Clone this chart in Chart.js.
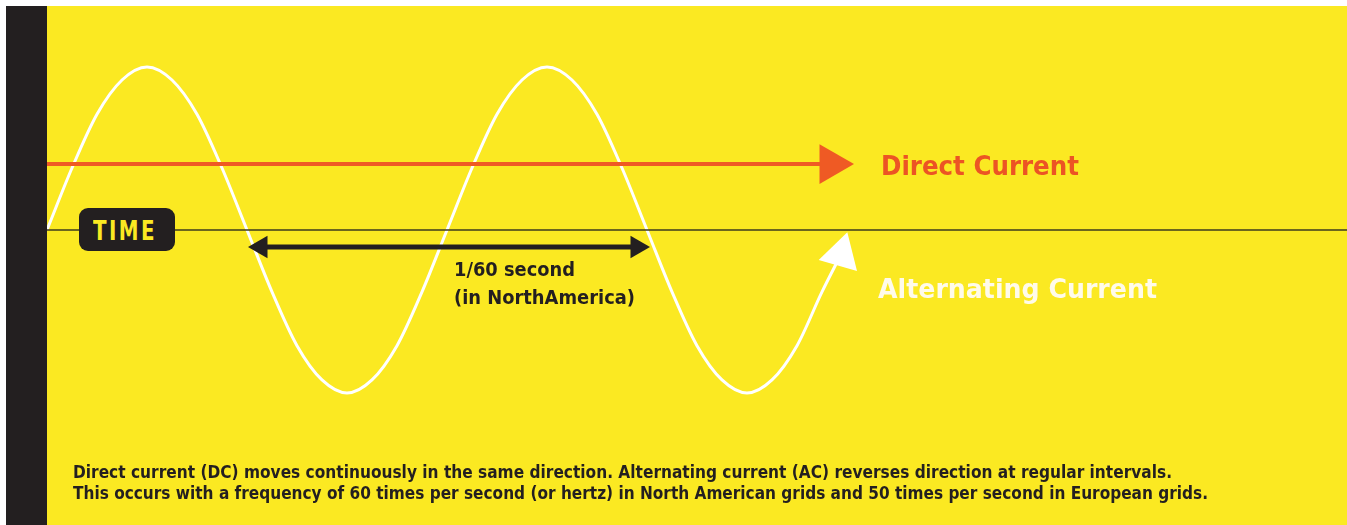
<!DOCTYPE html>
<html lang="en">
<head>
<meta charset="UTF-8">
<title>Direct Current vs Alternating Current</title>
<script src="https://cdn.jsdelivr.net/npm/chart.js"></script>
<style>
  body { margin: 0; background: #fff; font-family: "DejaVu Sans Condensed", "DejaVu Sans", sans-serif; font-weight: bold; }
  .page { position: relative; width: 1347px; height: 525px; overflow: hidden; }
  .bar { position: absolute; left: 6px; top: 6px; width: 41px; height: 519px; background: #231f20; }
  .panel { position: absolute; left: 47px; top: 6px; width: 1300px; height: 519px; background: #fbe922; }
  .panel canvas { position: absolute; left: 0; top: 0; }
  .lbl { position: absolute; white-space: nowrap; line-height: 1; transform-origin: 0 0; }
  .dc { left: 881px; top: 153px; font-size: 26px; color: #ec5424; }
  .ac { left: 878px; top: 275px; font-size: 27px; color: #fffbea; }
  .per { left: 454px; font-size: 19.5px; color: #231f20; }
  .note { left: 73px; font-size: 17px; color: #231f20; }
  .time {
    position: absolute; left: 79px; top: 208px; width: 96px; height: 43px;
    background: #231f20; border-radius: 9px;
  }
  .time span {
    position: absolute; left: 14px; top: 9px; font-size: 27px; color: #fbe922;
    letter-spacing: 3px; line-height: 1; white-space: nowrap; transform-origin: 0 0;
  }
</style>
</head>
<body>
<div class="page">
  <div class="bar"></div>
  <div class="panel">
    <canvas id="chart" width="1300" height="519"></canvas>
  </div>

  <div class="time"><span data-w="64">TIME</span></div>

  <div class="lbl dc" data-w="198">Direct Current</div>
  <div class="lbl ac" data-w="279">Alternating Current</div>

  <div class="lbl per" style="top:260px" data-w="121">1/60 second</div>
  <div class="lbl per" style="top:288px" data-w="181">(in NorthAmerica)</div>

  <div class="lbl note" style="top:464px" data-w="1099">Direct current (DC) moves continuously in the same direction. Alternating current (AC) reverses direction at regular intervals.</div>
  <div class="lbl note" style="top:485px" data-w="1135">This occurs with a frequency of 60 times per second (or hertz) in North American grids and 50 times per second in European grids.</div>
</div>

<script>
  // time axis: 1 unit = a quarter of one AC cycle
  const acX = [0, 0.25, 0.5, 0.75, 1, 1.25, 1.5, 1.75, 2, 2.25, 2.5, 2.75, 3, 3.25, 3.5, 3.75,
               4, 4.25, 4.5, 4.75, 5, 5.25, 5.5, 5.75, 6, 6.25, 6.5, 6.75, 7, 7.25, 7.5, 7.75, 7.94];
  const acY = [0, 0.38, 0.71, 0.92, 1, 0.92, 0.71, 0.38, 0, -0.38, -0.71, -0.92, -1, -0.92, -0.71, -0.38,
               0, 0.38, 0.71, 0.92, 1, 0.92, 0.71, 0.38, 0, -0.38, -0.71, -0.92, -1, -0.92, -0.71, -0.38, -0.15];

  const dcX = [0, 7.84];
  const dcY = [0.404, 0.404];

  // the 1/60 s span arrow
  const periodX = [2.14, 5.90];
  const periodY = [-0.104, -0.104];

  const axisX = [0, 13];
  const axisY = [0, 0];

  const pts = (xs, ys) => xs.map((x, i) => ({ x: x, y: ys[i] }));
  const lastOnly = (n, r) => c => (c.dataIndex === n - 1 ? r : 0);

  new Chart(document.getElementById('chart'), {
    type: 'line',
    data: {
      datasets: [
        {
          label: 'Time',
          data: pts(axisX, axisY),
          borderColor: '#3d3a1c',
          borderWidth: 1.5,
          pointRadius: 0
        },
        {
          label: '1/60 second',
          data: pts(periodX, periodY),
          borderColor: '#231f20',
          borderWidth: 5,
          pointStyle: 'triangle',
          pointRadius: 13,
          pointRotation: [-90, 90],
          pointBackgroundColor: '#231f20',
          pointBorderWidth: 0
        },
        {
          label: 'Direct Current',
          data: pts(dcX, dcY),
          borderColor: '#ef5a24',
          borderWidth: 4,
          pointStyle: 'triangle',
          pointRadius: lastOnly(dcX.length, 23),
          pointRotation: 90,
          pointBackgroundColor: '#ef5a24',
          pointBorderWidth: 0
        },
        {
          label: 'Alternating Current',
          data: pts(acX, acY),
          borderColor: '#ffffff',
          borderWidth: 3,
          cubicInterpolationMode: 'monotone',
          pointStyle: 'triangle',
          pointRadius: lastOnly(acX.length, 23),
          pointRotation: 16,
          pointBackgroundColor: '#ffffff',
          pointBorderWidth: 0
        }
      ]
    },
    options: {
      responsive: false,
      animation: false,
      events: [],
      layout: { padding: 0, autoPadding: false },
      plugins: { legend: { display: false }, tooltip: { enabled: false } },
      scales: {
        x: { type: 'linear', min: 0, max: 13, display: false },
        y: { min: -1.81, max: 1.374, display: false }
      }
    }
  });

  // squeeze the labels to the width of the original condensed type
  document.querySelectorAll('[data-w]').forEach(el => {
    const w = el.getBoundingClientRect().width;
    el.style.transform = 'scaleX(' + (el.dataset.w / w) + ')';
  });
</script>
</body>
</html>
